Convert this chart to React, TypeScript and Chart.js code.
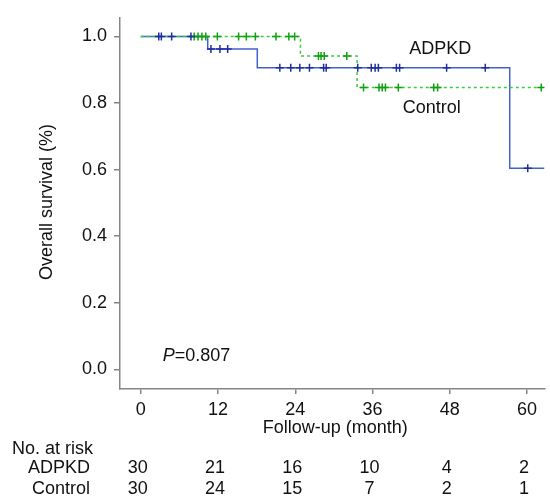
import React, { useEffect, useRef } from "react";
import { Chart, registerables } from "chart.js";

Chart.register(...registerables);

// ---- data ----
const xTicks = [0, 12, 24, 36, 48, 60];
const yTicks = [0, 0.2, 0.4, 0.6, 0.8, 1.0];

const adpkdTimes = [0, 10.4, 18.1, 57.3, 62.7];
const adpkdSurv = [1, 0.962, 0.906, 0.604, 0.604];
const adpkdCensor = [2.8, 3.2, 4.8, 7.8, 10.9, 12.3, 13.5, 21.6, 23.3, 24.7, 26.2, 28.4, 28.8, 33.7, 35.8, 36.4, 36.9, 39.7, 40.2, 47.5, 53.5, 60.1];

const controlTimes = [0, 24.8, 33.6, 62.7];
const controlSurv = [1, 0.941, 0.847, 0.847];
const controlCensor = [8.3, 8.9, 9.5, 10.1, 11.9, 15.2, 16.4, 17.8, 21.0, 23.0, 23.9, 27.6, 28.0, 28.5, 32.0, 34.6, 37.0, 37.5, 38.0, 40.0, 45.5, 46.1, 62.2];

const riskTimes = [0, 12, 24, 36, 48, 60];
const riskAdpkd = [30, 21, 16, 10, 4, 2];
const riskControl = [30, 24, 15, 7, 2, 1];

const FONT = "'Liberation Sans', Arial, sans-serif";
const BLUE = "#4062cc";
const BLUE_MARK = "#1f2f9f";
const GREEN = "#3ccc3c";
const GREEN_MARK = "#10a010";
const AXIS = "#858585";

function stepAt(times: number[], surv: number[], t: number) {
  let v = surv[0];
  for (let i = 0; i < times.length; i++) if (times[i] <= t) v = surv[i];
  return v;
}

const annotPlugin = {
  id: "annot",
  afterDraw(chart: any) {
    const ctx = chart.ctx as CanvasRenderingContext2D;
    const xs = chart.scales.x;
    const ys = chart.scales.y;
    ctx.save();
    ctx.fillStyle = "#111";
    ctx.textBaseline = "middle";

    // y title
    ctx.save();
    ctx.translate(47, 202);
    ctx.rotate(-Math.PI / 2);
    ctx.textAlign = "center";
    ctx.font = `18px ${FONT}`;
    ctx.fillText("Overall survival (%)", 0, 0);
    ctx.restore();

    // x title
    ctx.textAlign = "center";
    ctx.font = `18px ${FONT}`;
    ctx.fillText("Follow-up (month)", (chart.chartArea.left + chart.chartArea.right) / 2 + 3, 428);

    // series labels
    ctx.fillText("ADPKD", xs.getPixelForValue(46.5), ys.getPixelForValue(0.963));
    ctx.fillText("Control", xs.getPixelForValue(45.2), ys.getPixelForValue(0.785));

    // P value
    ctx.textAlign = "left";
    const px = xs.getPixelForValue(3.4);
    const py = ys.getPixelForValue(0.041);
    ctx.font = `italic 18px ${FONT}`;
    ctx.fillText("P", px, py);
    const w = ctx.measureText("P").width;
    ctx.font = `18px ${FONT}`;
    ctx.fillText("=0.807", px + w, py);

    // risk table
    ctx.textAlign = "left";
    ctx.fillText("No. at risk", 12, 449);
    ctx.fillText("ADPKD", 28, 468);
    ctx.fillText("Control", 32, 489);
    ctx.textAlign = "center";
    riskTimes.forEach((t, i) => {
      const x = xs.getPixelForValue(t) - 3;
      ctx.fillText(String(riskAdpkd[i]), x, 468);
      ctx.fillText(String(riskControl[i]), x, 489);
    });
    ctx.restore();
  },
};

export default function App() {
  const ref = useRef<HTMLCanvasElement>(null);
  useEffect(() => {
    if (!ref.current) return;
    const chart = new Chart(ref.current, {
      type: "line",
      data: {
        datasets: [
          {
            type: "scatter",
            label: "ADPKD censored",
            data: adpkdCensor.map((t) => ({ x: t, y: stepAt(adpkdTimes, adpkdSurv, t) })),
            pointStyle: "cross",
            pointRadius: 4,
            pointBorderWidth: 1.5,
            borderColor: BLUE_MARK,
            backgroundColor: BLUE_MARK,
            order: 0,
          } as any,
          {
            type: "scatter",
            label: "Control censored",
            data: controlCensor.map((t) => ({ x: t, y: stepAt(controlTimes, controlSurv, t) })),
            pointStyle: "cross",
            pointRadius: 4,
            pointBorderWidth: 1.5,
            borderColor: GREEN_MARK,
            backgroundColor: GREEN_MARK,
            order: 1,
          } as any,
          {
            label: "Control",
            data: controlTimes.map((t, i) => ({ x: t, y: controlSurv[i] })),
            stepped: "before",
            borderColor: GREEN,
            borderWidth: 1.5,
            borderDash: [3, 3],
            pointRadius: 0,
            fill: false,
            order: 2,
          },
          {
            label: "ADPKD",
            data: adpkdTimes.map((t, i) => ({ x: t, y: adpkdSurv[i] })),
            stepped: "before",
            borderColor: BLUE,
            borderWidth: 1.5,
            pointRadius: 0,
            fill: false,
            order: 3,
          },
        ],
      },
      options: {
        animation: false,
        responsive: false,
        devicePixelRatio: 1,
        layout: { padding: { top: 10, right: 0, left: 0, bottom: 0 } },
        plugins: { legend: { display: false }, tooltip: { enabled: false } },
        scales: {
          x: {
            type: "linear",
            min: -3.22,
            max: 62.7,
            afterBuildTicks: (s: any) => {
              s.ticks = xTicks.map((v) => ({ value: v }));
            },
            afterFit: (s: any) => {
              s.height = 111;
            },
            ticks: {
              color: "#111",
              font: { family: FONT, size: 18 },
              padding: 5,
              maxRotation: 0,
              autoSkip: false,
              callback: (v: any) => String(v),
            },
            grid: { drawOnChartArea: false, drawTicks: true, tickLength: 5, color: AXIS, lineWidth: 1.5 },
            border: { display: true, color: AXIS, width: 1.5 },
          },
          y: {
            type: "linear",
            min: -0.059,
            max: 1.056,
            afterBuildTicks: (s: any) => {
              s.ticks = yTicks.map((v) => ({ value: v }));
            },
            afterFit: (s: any) => {
              s.width = 120;
            },
            ticks: {
              color: "#111",
              font: { family: FONT, size: 18 },
              padding: 7,
              autoSkip: false,
              callback: (v: any) => Number(v).toFixed(1),
            },
            grid: { drawOnChartArea: false, drawTicks: true, tickLength: 6, color: AXIS, lineWidth: 1.5 },
            border: { display: true, color: AXIS, width: 1.5 },
          },
        },
      },
      plugins: [annotPlugin],
    });
    return () => chart.destroy();
  }, []);
  return (
    <div style={{ position: "fixed", left: 0, top: 0, width: 550, height: 500, background: "#fff" }}>
      <canvas ref={ref} width={550} height={500} style={{ display: "block" }} />
    </div>
  );
}
